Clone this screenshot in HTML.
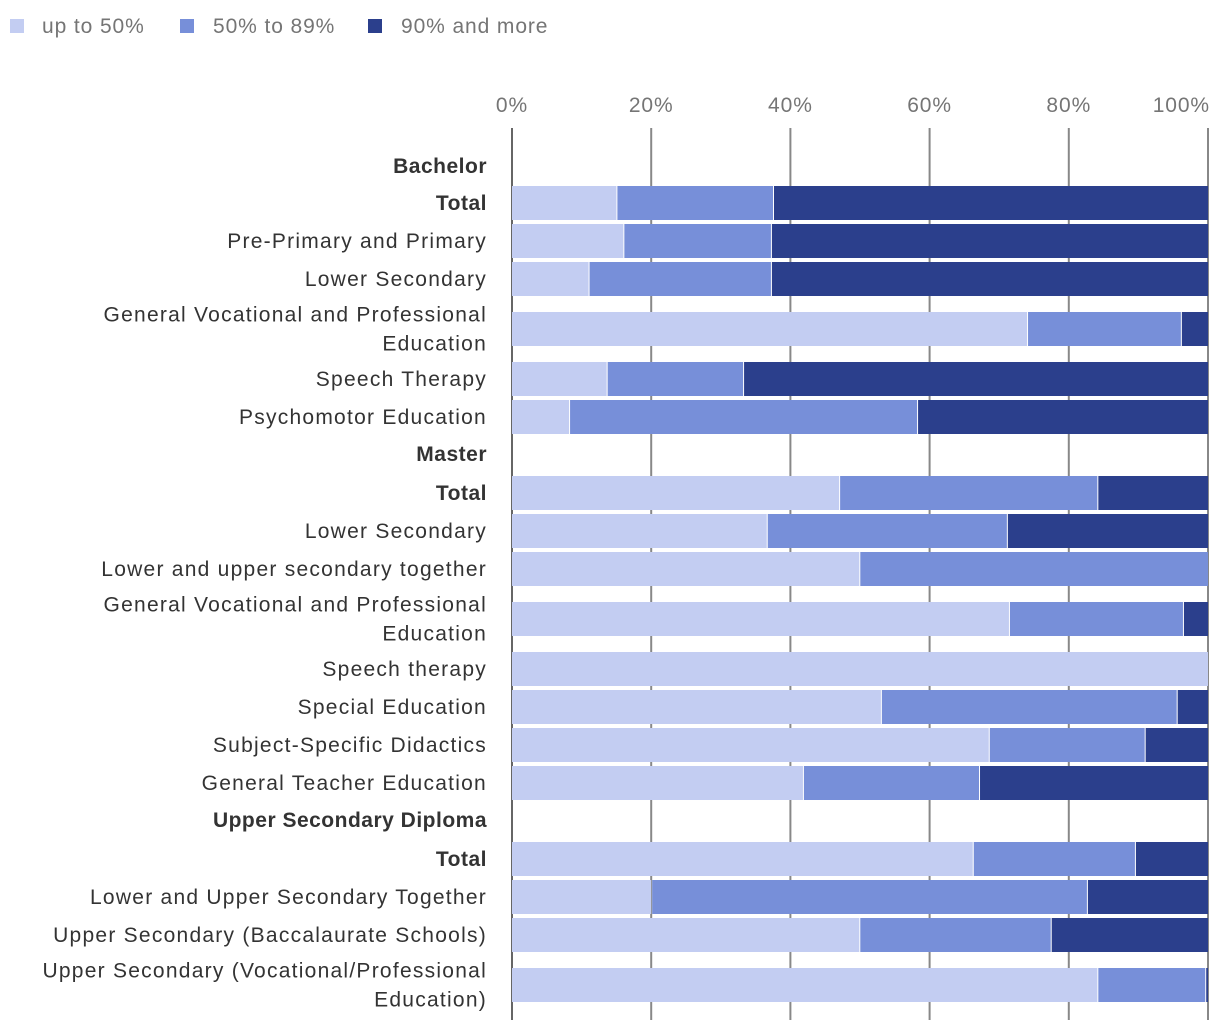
<!DOCTYPE html>
<html><head><meta charset="utf-8"><style>
html,body{margin:0;padding:0;background:#fff;}
svg{display:block;font-family:"Liberation Sans",sans-serif;}
</style></head><body>
<svg id="chart" width="1220" height="1032">
<g letter-spacing="0.9">
<rect x="10" y="19" width="14" height="14" fill="#c3cdf2"/>
<text x="42" y="33" font-size="21" fill="#757575">up to 50%</text>
<rect x="180" y="19" width="14" height="14" fill="#778fd9"/>
<text x="213" y="33" font-size="21" fill="#757575">50% to 89%</text>
<rect x="368" y="19" width="14" height="14" fill="#2b3f8c"/>
<text x="401" y="33" font-size="21" fill="#757575">90% and more</text>
</g>
<g id="grid"></g><g id="bars"></g><g id="labels"></g>
</svg>
<script>
const categories = ["Bachelor","Total","Pre-Primary and Primary","Lower Secondary","General Vocational and Professional|Education","Speech Therapy","Psychomotor Education","Master","Total","Lower Secondary","Lower and upper secondary together","General Vocational and Professional|Education","Speech therapy","Special Education","Subject-Specific Didactics","General Teacher Education","Upper Secondary Diploma","Total","Lower and Upper Secondary Together","Upper Secondary (Baccalaurate Schools)","Upper Secondary (Vocational/Professional|Education)"];
const isHeader = [1,1,0,0,0,0,0,1,1,0,0,0,0,0,0,0,1,1,0,0,0];
const upTo50 = [null,15,16,11,74,13.6,8.2,null,47,36.6,49.9,71.4,100,53,68.5,41.8,null,66.2,20,49.9,84.1];
const mid50to89 = [null,22.5,21.2,26.2,22.1,19.6,50,null,37.1,34.5,50.1,25,0,42.5,22.4,25.3,null,23.3,62.6,27.5,15.5];
const over90 = [null,62.5,62.8,62.8,3.9,66.8,41.8,null,15.9,28.9,0,3.6,0,4.5,9.1,32.9,null,10.5,17.4,22.6,0.4];
const ticks = [0,20,40,60,80,100];
const rowCenters = [166,203,241,279,329,379,417,454,493,531,569,619,669,707,745,783,820,859,897,935,985];

const NS="http://www.w3.org/2000/svg";
const x0=512, x1=1208;
const xs=v=>x0+(x1-x0)*v/100;
function mk(tag,attrs,parent){const e=document.createElementNS(NS,tag);for(const k in attrs)e.setAttribute(k,attrs[k]);parent.appendChild(e);return e;}
const grid=document.getElementById('grid'),bars=document.getElementById('bars'),labels=document.getElementById('labels');
ticks.forEach(t=>{
  const l=mk('line',{x1:xs(t),x2:xs(t),y1:128,y2:1020,stroke:t===0?'#666':'#888','stroke-width':2},grid);
  
  
  const tx=mk('text',{x:xs(t),y:112,'font-size':21,'letter-spacing':0.9,fill:'#757575','text-anchor':t===100?'end':'middle'},grid);
  if(t===100)tx.setAttribute('x',xs(t)+2);
  tx.textContent=t+'%';
  
  
});
const series=[[upTo50,'#c3cdf2','up-to-50'],[mid50to89,'#778fd9','50-to-89'],[over90,'#2b3f8c','90-and-more']];
categories.forEach((c,i)=>{
  const cy=rowCenters[i];
  const lines=c.split('|');
  lines.forEach((ln,j)=>{
    const t=mk('text',{x:487,y:cy+7+(lines.length>1?(j-0.5)*29:0),'font-size':21,'letter-spacing':isHeader[i]?0.5:1.25,'text-anchor':'end',fill:'#333','font-weight':isHeader[i]?'bold':'normal'},labels);
    t.textContent=ln;
    
    
  });
  if(upTo50[i]===null)return;
  let acc=0;
  series.forEach(([arr,col,nm])=>{
    const v=arr[i];
    if(v>0){
      const r=mk('rect',{x:xs(acc)+(acc>0?1:0),y:cy-17,width:Math.max(0,xs(acc+v)-xs(acc)-(acc>0?1:0)),height:34,fill:col},bars);
      
      
    }
    acc+=v;
  });
});
</script>
</body></html>
